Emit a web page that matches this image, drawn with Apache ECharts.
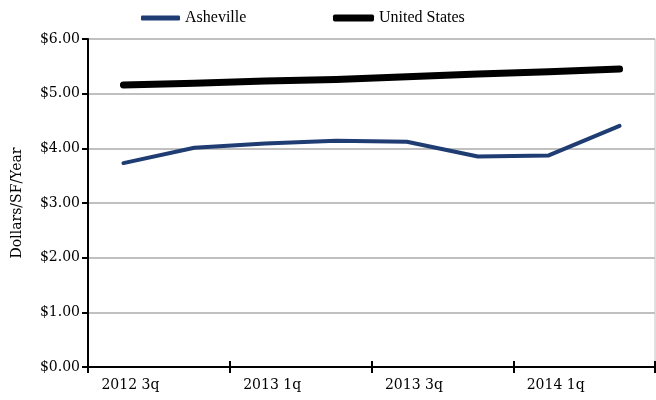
<!DOCTYPE html>
<html>
<head>
<meta charset="utf-8">
<script src="https://cdn.jsdelivr.net/npm/echarts@6/dist/echarts.min.js"></script>
<style>
  html, body { margin: 0; padding: 0; background: #fff; }
  #chart { width: 656px; height: 400px; }
</style>
</head>
<body>
<div id="chart"></div>
<script>
// Quarterly asking rents, dollars per square foot per year
const quarters = ['2012 3q', '2012 4q', '2013 1q', '2013 2q', '2013 3q', '2013 4q', '2014 1q', '2014 2q'];
const asheville = [3.73, 4.01, 4.09, 4.14, 4.12, 3.85, 3.87, 4.41];
const unitedStates = [5.16, 5.19, 5.23, 5.26, 5.31, 5.36, 5.40, 5.45];
const yTicks = [0, 1, 2, 3, 4, 5, 6];

const ASHEVILLE_COLOR = '#1f3d73';
const US_COLOR = '#000000';
const axisFont = { fontFamily: 'DejaVu Serif', fontSize: 14, color: '#000' };
const legendFont = { fontFamily: 'Liberation Serif', fontSize: 16, color: '#000' };

const chart = echarts.init(document.getElementById('chart'), null, { renderer: 'canvas' });

chart.setOption({
  animation: false,
  backgroundColor: '#fff',
  grid: {
    left: 88, right: 1, top: 39, bottom: 33,
    show: true, borderColor: '#c0c0c0', borderWidth: 1, backgroundColor: 'transparent'
  },
  legend: [
    {
      data: ['Asheville'], left: 141, top: 10, padding: 0,
      icon: 'roundRect', itemWidth: 39, itemHeight: 5,
      textStyle: legendFont
    },
    {
      data: ['United States'], left: 333, top: 10, padding: 0,
      icon: 'roundRect', itemWidth: 41, itemHeight: 7,
      textStyle: legendFont
    }
  ],
  xAxis: [
    {
      type: 'category',
      data: quarters,
      boundaryGap: true,
      axisLine: { lineStyle: { color: '#000', width: 2 } },
      axisTick: { show: true, interval: 1, length: 6, inside: false, lineStyle: { color: '#000', width: 2 } },
      axisLabel: Object.assign({ interval: 1, margin: 11, padding: [0, 0, 0, 14] }, axisFont),
      splitLine: { show: false }
    },
    {
      // inner half of the crossing category ticks
      type: 'category',
      data: quarters,
      position: 'bottom',
      boundaryGap: true,
      axisLine: { show: false },
      axisTick: { show: true, interval: 1, length: 6, inside: true, lineStyle: { color: '#000', width: 2 } },
      axisLabel: { show: false },
      splitLine: { show: false }
    }
  ],
  yAxis: {
    type: 'value',
    min: yTicks[0],
    max: yTicks[yTicks.length - 1],
    interval: 1,
    name: 'Dollars/SF/Year',
    nameLocation: 'middle',
    nameGap: 64,
    nameTextStyle: { fontFamily: 'DejaVu Serif', fontSize: 14, color: '#000' },
    axisLine: { show: true, lineStyle: { color: '#000', width: 2 } },
    axisTick: { show: true, length: 6, lineStyle: { color: '#000', width: 2 } },
    axisLabel: Object.assign({
      margin: 8,
      formatter: v => '$' + v.toFixed(2)
    }, axisFont),
    splitLine: { show: true, lineStyle: { color: '#c0c0c0', width: 2 } }
  },
  series: [
    {
      name: 'Asheville',
      type: 'line',
      data: asheville,
      symbol: 'none',
      color: ASHEVILLE_COLOR,
      lineStyle: { color: ASHEVILLE_COLOR, width: 4, cap: 'round', join: 'round' },
      z: 3
    },
    {
      name: 'United States',
      type: 'line',
      data: unitedStates,
      symbol: 'none',
      color: US_COLOR,
      lineStyle: { color: US_COLOR, width: 7, cap: 'round', join: 'round' },
      z: 4
    }
  ]
});
</script>
</body>
</html>
